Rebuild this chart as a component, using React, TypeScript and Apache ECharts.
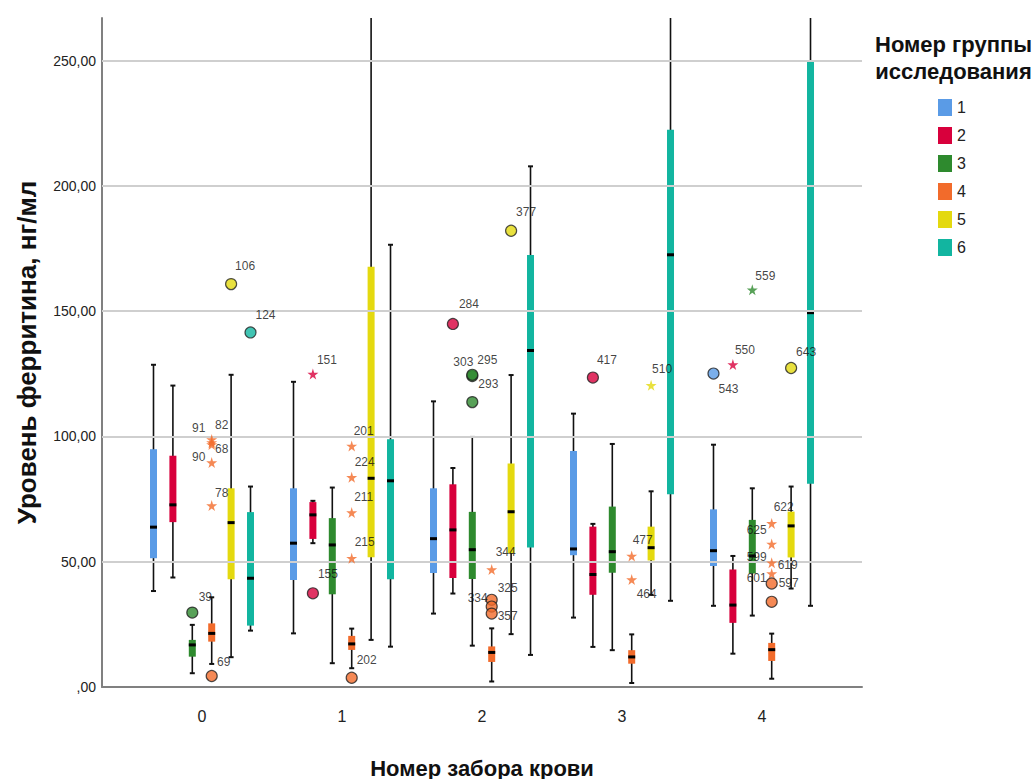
import React, { useEffect, useRef } from "react";
import * as echarts from "echarts";

// ---- data ----
const categories = [0, 1, 2, 3, 4];
const groupNames = ["1", "2", "3", "4", "5", "6"];
const groupColors = ["#5a9be6", "#d8003c", "#2e8a2e", "#f26b2b", "#e4d90f", "#12b5a0"];

// [min, q1, median, q3, max] for blood draw 0..4
const group1Stats = [
  [38.3, 51.4, 63.8, 94.9, 128.6],
  [21.4, 42.7, 57.4, 79.3, 121.8],
  [29.3, 45.5, 59.2, 79.3, 114.0],
  [27.7, 52.6, 55.1, 94.2, 109.1],
  [32.4, 48.3, 54.4, 70.9, 96.7],
];
const group2Stats = [
  [43.7, 65.8, 72.7, 92.3, 120.3],
  [57.4, 59.1, 68.7, 73.8, 74.3],
  [37.3, 43.5, 62.7, 80.9, 87.4],
  [16.0, 36.8, 44.9, 64.0, 65.1],
  [13.3, 25.6, 32.7, 46.9, 52.3],
];
const group3Stats = [
  [5.5, 12.1, 16.8, 18.8, 24.8],
  [9.5, 37.0, 56.7, 67.4, 79.6],
  [16.5, 43.1, 54.8, 69.9, 99.8],
  [14.7, 45.6, 54.0, 72.0, 97.0],
  [28.5, 45.3, 52.3, 66.7, 79.3],
];
const group4Stats = [
  [9.2, 18.1, 21.4, 25.4, 35.8],
  [7.5, 14.8, 17.2, 20.4, 23.3],
  [2.2, 10.0, 13.8, 16.2, 23.4],
  [1.6, 9.3, 12.0, 14.7, 21.0],
  [3.3, 10.4, 14.9, 17.6, 21.3],
];
const group5Stats = [
  [11.9, 43.0, 65.6, 79.3, 124.6],
  [18.8, 51.8, 83.3, 167.7, 300.0],
  [21.1, 53.4, 69.9, 89.2, 124.5],
  [36.8, 50.5, 55.6, 64.0, 78.1],
  [39.3, 51.7, 64.3, 70.0, 80.0],
];
const group6Stats = [
  [22.5, 24.5, 43.4, 69.8, 80.0],
  [16.1, 43.0, 82.3, 98.9, 176.5],
  [12.8, 55.7, 134.3, 172.4, 207.8],
  [34.4, 76.9, 172.5, 222.4, 320.0],
  [32.4, 81.1, 149.4, 250.0, 340.0],
];
const allStats = [group1Stats, group2Stats, group3Stats, group4Stats, group5Stats, group6Stats];

// outliers: [category, group index, value, case id, shape]
const outliers: [number, number, number, string, string][] = [
  [0, 2, 29.7, "39", "o"],
  [0, 3, 4.4, "69", "o"],
  [0, 3, 98.8, "91", "*"],
  [0, 3, 97.6, "82", "*"],
  [0, 3, 96.8, "68", "*"],
  [0, 3, 89.6, "90", "*"],
  [0, 3, 72.4, "78", "*"],
  [0, 4, 160.8, "106", "o"],
  [0, 5, 141.5, "124", "o"],
  [1, 1, 124.9, "151", "*"],
  [1, 1, 37.4, "155", "o"],
  [1, 3, 3.7, "202", "o"],
  [1, 3, 96.2, "201", "*"],
  [1, 3, 83.7, "224", "*"],
  [1, 3, 69.6, "211", "*"],
  [1, 3, 51.4, "215", "*"],
  [2, 1, 144.9, "284", "o"],
  [2, 2, 124.1, "303", "o"],
  [2, 2, 124.6, "295", "o"],
  [2, 2, 113.7, "293", "o"],
  [2, 3, 46.9, "344", "*"],
  [2, 3, 34.8, "325", "o"],
  [2, 3, 32.1, "334", "o"],
  [2, 3, 29.3, "357", "o"],
  [2, 4, 182.1, "377", "o"],
  [3, 1, 123.5, "417", "o"],
  [3, 3, 52.3, "477", "*"],
  [3, 3, 42.9, "464", "*"],
  [3, 4, 120.4, "510", "*"],
  [4, 0, 125.1, "543", "o"],
  [4, 1, 128.7, "550", "*"],
  [4, 2, 158.5, "559", "*"],
  [4, 3, 65.3, "622", "*"],
  [4, 3, 57.1, "625", "*"],
  [4, 3, 49.6, "619", "*"],
  [4, 3, 45.3, "599", "*"],
  [4, 3, 41.3, "601", "o"],
  [4, 3, 34.0, "597", "o"],
  [4, 4, 127.3, "643", "o"],
];

const yTicks = [0, 50, 100, 150, 200, 250];

// ---- layout / style ----
const Y_MAX = 267;
const SLOT = 0.1386;
const labelOffsets: Record<string, [number, number]> = {
  "39": [13, -16], "69": [12, -14], "91": [-13, -11], "82": [10, -17], "68": [10, 5],
  "90": [-13, -5], "78": [10, -13], "106": [14, -18], "124": [15, -17],
  "151": [14, -14], "155": [15, -19], "202": [15, -18], "201": [12, -15], "224": [13, -15],
  "211": [12, -16], "215": [13, -16],
  "284": [16, -20], "303": [-9, -14], "295": [15, -15], "293": [16, -18], "344": [14, -17],
  "325": [16, -12], "334": [-14, -9], "357": [16, 2], "377": [15, -19],
  "417": [14, -18], "477": [11, -16], "464": [15, 14], "510": [11, -16],
  "543": [15, 15], "550": [12, -15], "559": [13, -14], "643": [15, -16],
  "622": [12, -16], "625": [-15, -14], "619": [16, 2], "599": [-15, -16],
  "601": [-15, -6], "597": [17, -19],
};
const STAR = "path://M50,0 L61,35 L98,35 L68,57 L79,91 L50,70 L21,91 L32,57 L2,35 L39,35 Z";
const FONT = "'Liberation Sans', Arial, sans-serif";

const xPos = (cat: number, g: number) => cat + (g - 2.5) * SLOT;

export default function App() {
  const ref = useRef<HTMLDivElement>(null);
  useEffect(() => {
    if (!ref.current) return;
    const chart = echarts.init(ref.current, undefined, { renderer: "svg" });

    const boxSeries = allStats.map((stats, g) => ({
      type: "custom",
      name: groupNames[g],
      z: 3,
      itemStyle: { color: groupColors[g] },
      encode: { x: 0, y: [1, 2, 3, 4, 5] },
      data: stats.map((s, c) => [xPos(categories[c], g), ...s]),
      renderItem: (params: any, api: any) => {
        const x = api.value(0);
        const v = [1, 2, 3, 4, 5].map((i) => api.value(i));
        const px = (val: number) => api.coord([x, Math.min(val, Y_MAX)]);
        const [cx, yMin] = px(v[0]);
        const yQ1 = px(v[1])[1];
        const yMed = px(v[2])[1];
        const yQ3 = px(v[3])[1];
        const yMaxP = px(v[4])[1];
        const bw = 7;
        const children: any[] = [
          { type: "line", shape: { x1: cx, y1: yMaxP, x2: cx, y2: yMin }, style: { stroke: "#111", lineWidth: 1.6 } },
          { type: "line", shape: { x1: cx - 2.5, y1: yMin, x2: cx + 2.5, y2: yMin }, style: { stroke: "#111", lineWidth: 2 } },
        ];
        if (v[4] <= Y_MAX) {
          children.push({ type: "line", shape: { x1: cx - 2.5, y1: yMaxP, x2: cx + 2.5, y2: yMaxP }, style: { stroke: "#111", lineWidth: 2 } });
        }
        children.push({ type: "rect", shape: { x: cx - bw / 2, y: yQ3, width: bw, height: Math.max(yQ1 - yQ3, 1) }, style: { fill: groupColors[g] } });
        children.push({ type: "rect", shape: { x: cx - bw / 2, y: yMed - 1.5, width: bw, height: 3 }, style: { fill: "#000" } });
        return { type: "group", children };
      },
    }));

    const outlierData = outliers.map(([c, g, val, id, shape]) => {
      const off = labelOffsets[id] || [12, -14];
      const isStar = shape === "*";
      return {
        value: [xPos(c, g), val],
        name: id,
        symbol: isStar ? STAR : "circle",
        symbolSize: 11,
        itemStyle: isStar
          ? { color: groupColors[g], borderWidth: 0 }
          : { color: groupColors[g], borderColor: "#222", borderWidth: 1.2 },
        label: {
          show: true,
          position: "inside",
          offset: off,
          formatter: id,
          color: "#111",
          fontSize: 12,
          fontFamily: FONT,
          textBorderWidth: 0,
        },
      };
    });

    const option: any = {
      animation: false,
      grid: { left: 102, right: 173, top: 18, bottom: 92, containLabel: false, outerBoundsMode: "none" },
      legend: {
        data: groupNames.map((n) => ({ name: n, icon: "rect" })),
        orient: "vertical",
        left: 938,
        top: 99,
        itemWidth: 14,
        itemHeight: 17,
        itemGap: 11,
        padding: 0,
        selectedMode: false,
        textStyle: { fontSize: 16, color: "#222", fontFamily: FONT },
      },
      graphic: [
        {
          type: "text",
          left: 875,
          top: 31,
          style: {
            text: "Номер группы\nисследования",
            font: `bold 22px ${FONT}`,
            fill: "#111",
            textAlign: "center",
            lineHeight: 27,
          },
        },
      ],
      xAxis: {
        type: "value",
        min: -0.7143,
        max: 4.7143,
        name: "Номер забора крови",
        nameLocation: "middle",
        nameGap: 70,
        nameTextStyle: { fontSize: 22, fontWeight: "bold", color: "#111", fontFamily: FONT },
        axisLine: { show: true, onZero: false, lineStyle: { color: "#808080", width: 2 } },
        axisTick: { show: false },
        splitLine: { show: false },
        axisLabel: {
          customValues: categories,
          fontSize: 16,
          color: "#222",
          margin: 21,
          fontFamily: FONT,
          formatter: (v: number) => String(Math.round(v)),
        },
      },
      yAxis: {
        type: "value",
        min: 0,
        max: Y_MAX,
        interval: 50,
        name: "Уровень ферритина, нг/мл",
        nameLocation: "middle",
        nameGap: 62,
        nameRotate: 90,
        nameTextStyle: { fontSize: 26, fontWeight: "bold", color: "#111", fontFamily: FONT },
        axisLine: { show: true, onZero: false, lineStyle: { color: "#808080", width: 2 } },
        axisTick: { show: false },
        splitLine: { show: false },
        axisLabel: {
          fontSize: 14,
          color: "#222",
          margin: 6,
          fontFamily: FONT,
          formatter: (v: number) => {
            if (!yTicks.includes(v)) return "";
            return v === 0 ? ",00" : v.toFixed(2).replace(".", ",");
          },
        },
      },
      series: [
        {
          type: "line",
          data: [],
          z: 1,
          silent: true,
          markLine: {
            silent: true,
            symbol: "none",
            label: { show: false },
            lineStyle: { color: "#cfcfcf", width: 2, type: "solid" },
            data: yTicks.filter((t) => t > 0).map((t) => ({ yAxis: t })),
          },
        },
        ...boxSeries,
        {
          type: "scatter",
          z: 5,
          data: outlierData,
        },
      ],
    };
    chart.setOption(option);
    return () => chart.dispose();
  }, []);
  return <div ref={ref} style={{ position: "absolute", left: 0, top: 0, width: 1035, height: 779 }} />;
}
